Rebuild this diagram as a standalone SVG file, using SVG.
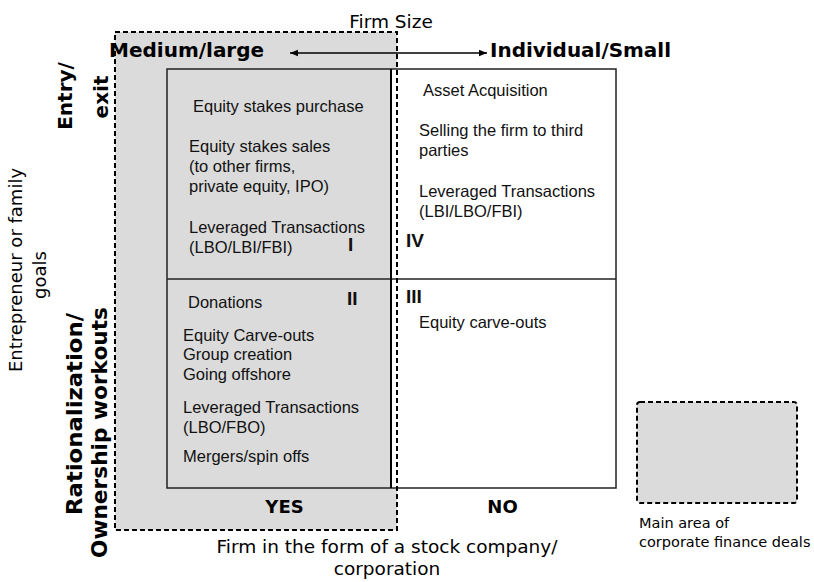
<svg xmlns="http://www.w3.org/2000/svg" width="814" height="582" viewBox="0 0 814 582">
<style>
.lbl{font-family:"DejaVu Sans",Verdana,sans-serif;fill:#000}
.b{font-weight:bold}
.body{font-family:"Liberation Sans",Arial,sans-serif;font-size:16.5px;fill:#111}
.num{font-family:"Liberation Sans",Arial,sans-serif;font-size:19px;font-weight:bold;fill:#111}
.dash{fill:none;stroke:#000;stroke-width:2;stroke-dasharray:5 3}
.grid{fill:none;stroke:#222;stroke-width:1.5}
.conn{stroke:#000;stroke-width:1.5;fill:none}
</style>
<defs>
<marker id="ah" viewBox="0 0 10 10" refX="10" refY="5" markerWidth="8" markerHeight="8" markerUnits="userSpaceOnUse" orient="auto-start-reverse">
<path d="M0,1 L10,5 L0,9 z" fill="#000"/>
</marker>
</defs>
<rect width="814" height="582" fill="#fff"/>

<g id="main-area">
<rect x="115" y="32" width="282" height="498" fill="#dbdbdb"/>
<rect x="391" y="69" width="225" height="419" fill="#fff"/>
</g>

<g id="matrix">
<rect class="grid" x="167" y="69" width="449" height="419"/>
<line class="grid" x1="167" y1="279" x2="616" y2="279"/>
<line x1="391" y1="69" x2="391" y2="488" stroke="#000" stroke-width="2"/>
</g>

<g id="main-area-border">
<rect class="dash" x="115" y="32" width="282" height="498"/>
</g>

<g id="quadrant-I">
<text class="body" x="193" y="112">Equity stakes purchase</text>
<text class="body" x="189" y="152">Equity stakes sales</text>
<text class="body" x="189" y="172">(to other firms,</text>
<text class="body" x="189" y="192">private equity, IPO)</text>
<text class="body" x="189" y="233">Leveraged Transactions</text>
<text class="body" x="189" y="253">(LBO/LBI/FBI)</text>
<text class="num" x="348" y="251">I</text>
</g>

<g id="quadrant-IV">
<text class="body" x="423" y="96">Asset Acquisition</text>
<text class="body" x="419" y="136">Selling the firm to third</text>
<text class="body" x="419" y="156">parties</text>
<text class="body" x="419" y="197">Leveraged Transactions</text>
<text class="body" x="419" y="217">(LBI/LBO/FBI)</text>
<text class="num" x="406" y="247">IV</text>
</g>

<g id="quadrant-II">
<text class="body" x="188" y="308">Donations</text>
<text class="num" x="347" y="305">II</text>
<text class="body" x="183" y="341">Equity Carve-outs</text>
<text class="body" x="183" y="360">Group creation</text>
<text class="body" x="183" y="380">Going offshore</text>
<text class="body" x="183" y="413">Leveraged Transactions</text>
<text class="body" x="183" y="433">(LBO/FBO)</text>
<text class="body" x="183" y="462">Mergers/spin offs</text>
</g>

<g id="quadrant-III">
<text class="num" x="406" y="303">III</text>
<text class="body" x="419" y="328">Equity carve-outs</text>
</g>

<g id="axis-top">
<text class="lbl" x="391" y="28" font-size="18.5" text-anchor="middle">Firm Size</text>
<text class="lbl b" x="109" y="57" font-size="20">Medium/large</text>
<text class="lbl b" x="490" y="57" font-size="20" textLength="181" lengthAdjust="spacingAndGlyphs">Individual/Small</text>
</g>

<g id="connectors">
<line class="conn" x1="290" y1="53" x2="487" y2="53" marker-start="url(#ah)" marker-end="url(#ah)"/>
</g>

<g id="axis-left">
<text class="lbl" transform="translate(22,270) rotate(-90)" font-size="18" text-anchor="middle">Entrepreneur or family</text>
<text class="lbl" transform="translate(46,275) rotate(-90)" font-size="18" text-anchor="middle">goals</text>
<text class="lbl b" transform="translate(72,96) rotate(-90)" font-size="20" text-anchor="middle">Entry/</text>
<text class="lbl b" transform="translate(108,97) rotate(-90)" font-size="20" text-anchor="middle">exit</text>
<text class="lbl b" transform="translate(82,414) rotate(-90)" font-size="21" text-anchor="middle" textLength="202" lengthAdjust="spacingAndGlyphs">Rationalization/</text>
<text class="lbl b" transform="translate(107,432.5) rotate(-90)" font-size="21" text-anchor="middle" textLength="251" lengthAdjust="spacingAndGlyphs">Ownership workouts</text>
</g>

<g id="axis-bottom">
<text class="lbl b" x="284.5" y="513" font-size="18" text-anchor="middle">YES</text>
<text class="lbl b" x="502.5" y="513" font-size="18" text-anchor="middle">NO</text>
<text class="lbl" x="387" y="553" font-size="18.5" text-anchor="middle">Firm in the form of a stock company/</text>
<text class="lbl" x="387" y="575" font-size="18.5" text-anchor="middle">corporation</text>
</g>

<g id="legend">
<rect x="637" y="402" width="160" height="101" rx="3" fill="#dbdbdb" stroke="#000" stroke-width="2" stroke-dasharray="5 3"/>
<text class="lbl" x="639" y="528" font-size="14.5">Main area of</text>
<text class="lbl" x="639" y="547" font-size="14.5">corporate finance deals</text>
</g>
</svg>
